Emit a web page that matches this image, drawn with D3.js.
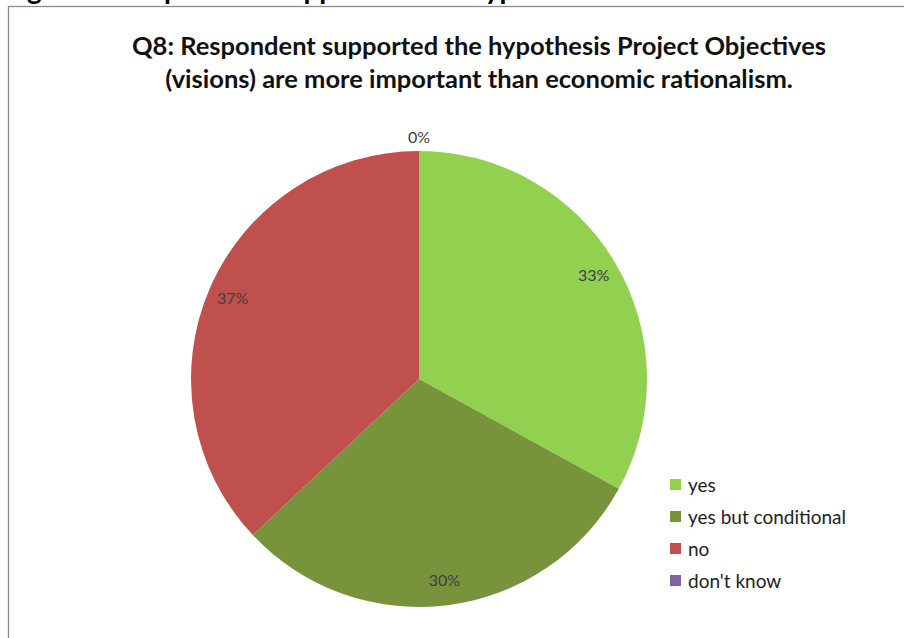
<!DOCTYPE html>
<html>
<head>
<meta charset="utf-8">
<script src="https://cdn.jsdelivr.net/npm/d3@7"></script>
<style>
  html, body { margin: 0; padding: 0; background: #fff; }
  svg { display: block; }
</style>
</head>
<body>
<svg id="chart" width="904" height="638"></svg>
<script>
// Survey answers to Q8
const categories = ["yes", "yes but conditional", "no", "don't know"];
const shares = [33, 30, 37, 0];           // percent of respondents
const sliceColors = ["#92D050", "#77933C", "#C0504D", "#8064A2"];
const titleLines = [
  "Q8: Respondent supported the hypothesis Project Objectives",
  "(visions) are more important than economic rationalism."
];
const captionText = "Figure 8: Respondent support for the hypothesis";

const svg = d3.select("#chart");
const font = "Lato, 'Open Sans', 'DejaVu Sans', sans-serif";

// Caption of the page above the chart frame (only its lower part is visible)
svg.append("text")
  .attr("x", 4).attr("y", -1)
  .attr("font-family", font).attr("font-weight", "bold")
  .attr("font-size", 28).attr("fill", "#000")
  .text(captionText);

// Chart frame
svg.append("rect")
  .attr("x", 8.5).attr("y", 6.5)
  .attr("width", 1000).attr("height", 1000)
  .attr("fill", "#fff").attr("stroke", "#8c8c8c").attr("stroke-width", 1.3);

// Title
const title = svg.append("text")
  .attr("font-family", font).attr("font-weight", "bold")
  .attr("font-size", 25.5).attr("fill", "#111")
  .attr("text-anchor", "middle");
titleLines.forEach((line, i) => {
  title.append("tspan").attr("x", 479).attr("y", 55 + i * 33).text(line);
});

// Pie
const cx = 419, cy = 379, R = 228;
const color = d3.scaleOrdinal().domain(categories).range(sliceColors);
const pie = d3.pie().sort(null).value(d => d.value);
const data = categories.map((c, i) => ({ name: c, value: shares[i] }));
const arcs = pie(data);
const arc = d3.arc().innerRadius(0).outerRadius(R);
const labelArc = d3.arc().innerRadius(203).outerRadius(203);
const outerLabelArc = d3.arc().innerRadius(242).outerRadius(242);

const g = svg.append("g").attr("transform", `translate(${cx},${cy})`);
g.selectAll("path")
  .data(arcs)
  .join("path")
  .attr("d", arc)
  .attr("fill", d => color(d.data.name));

g.selectAll("text.pct")
  .data(arcs)
  .join("text")
  .attr("class", "pct")
  .attr("transform", d => `translate(${(d.data.value === 0 ? outerLabelArc : labelArc).centroid(d)})`)
  .attr("text-anchor", "middle")
  .attr("dy", "0.35em")
  .attr("font-family", font)
  .attr("font-size", 16)
  .attr("fill", "#404040")
  .text(d => d3.format(".0f")(d.data.value) + "%");

// Legend
const legend = svg.append("g").attr("transform", "translate(670,485)");
const rows = legend.selectAll("g")
  .data(categories)
  .join("g")
  .attr("transform", (d, i) => `translate(0,${i * 32})`);
rows.append("rect")
  .attr("x", 0).attr("y", -6).attr("width", 11).attr("height", 11)
  .attr("fill", d => color(d));
rows.append("text")
  .attr("x", 18).attr("y", 0).attr("dy", "0.35em")
  .attr("font-family", font).attr("font-size", 19)
  .attr("fill", "#222")
  .text(d => d);
</script>
</body>
</html>
